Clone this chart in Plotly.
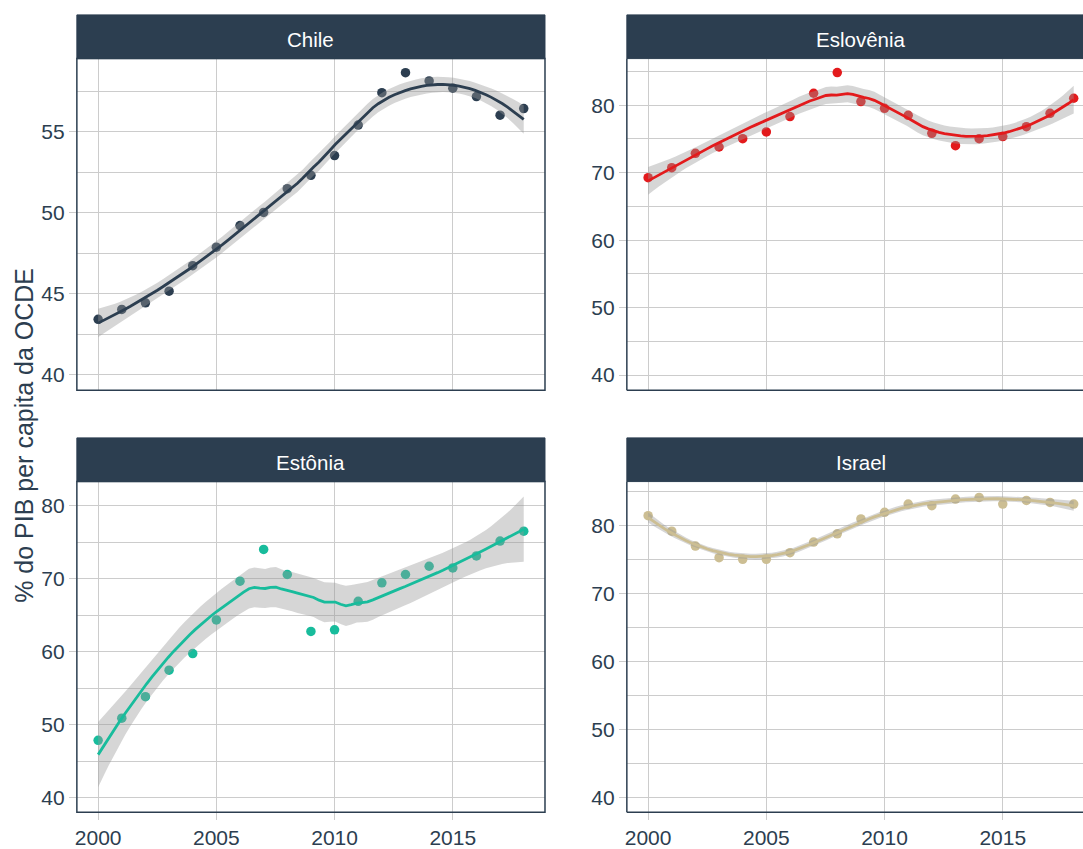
import math
import numpy as np
import plotly.graph_objects as go

# ---------------- data ----------------
years = list(range(2000, 2019))
countries = ["Chile", "Eslovênia", "Estônia", "Israel"]
chile = [43.43, 44.04, 44.45, 45.17, 46.74, 47.88, 49.21, 50.02, 51.49, 52.31,
         53.53, 55.41, 57.41, 58.64, 58.13, 57.68, 57.17, 56.02, 56.43]
eslovenia = [69.26, 70.74, 72.87, 73.81, 75.05, 76.04, 78.32, 81.78, 84.85, 80.54,
             79.55, 78.51, 75.84, 74.01, 75.05, 75.35, 76.83, 78.81, 81.04]
estonia = [47.85, 50.88, 53.83, 57.46, 59.73, 64.35, 69.66, 74.01, 70.57, 62.77,
           62.99, 66.89, 69.43, 70.57, 71.70, 71.47, 73.11, 75.15, 76.51]
israel = [81.46, 79.17, 76.98, 75.28, 75.04, 75.04, 76.01, 77.57, 78.78, 80.97,
          81.95, 83.16, 82.92, 83.89, 84.14, 83.16, 83.70, 83.41, 83.16]
series = [chile, eslovenia, estonia, israel]
colors = ["#2c3e50", "#e31a1c", "#18BC9C", "#CCBE93"]
y_ticks = [[40, 45, 50, 55], [40, 50, 60, 70, 80], [40, 50, 60, 70, 80], [40, 50, 60, 70, 80]]
y_minor = [2.5, 5, 5, 5]
y_ranges = [[39.06, 59.51], [37.75, 86.92], [38.0, 83.3], [37.85, 86.47]]
x_ticks = [2000, 2005, 2010, 2015]
y_title = "% do PIB per capita da OCDE"

# ---------------- loess smoother (like geom_smooth, span=0.75, degree 2) ----------------
def loess_rows(x, xe, span=0.75):
    x = np.asarray(x, float)
    n = len(x)
    q = int(math.floor(n * span))
    rows = []
    for x0 in xe:
        d = np.abs(x - x0)
        h = np.sort(d)[q - 1] * 1.0001
        u = d / h
        w = np.where(u < 1, (1 - u ** 3) ** 3, 0.0)
        X = np.column_stack([np.ones(n), x - x0, (x - x0) ** 2])
        XtW = X.T * w
        A = XtW @ X
        rows.append(np.linalg.solve(A, XtW)[0])
    return np.array(rows)


def t_quantile_975(df):
    # Cornish-Fisher expansion around the normal quantile
    z = 1.959963984540054
    g1 = (z ** 3 + z) / 4
    g2 = (5 * z ** 5 + 16 * z ** 3 + 3 * z) / 96
    g3 = (3 * z ** 7 + 19 * z ** 5 + 17 * z ** 3 - 15 * z) / 384
    g4 = (79 * z ** 9 + 776 * z ** 7 + 1482 * z ** 5 - 1920 * z ** 3 - 945 * z) / 92160
    return z + g1 / df + g2 / df ** 2 + g3 / df ** 3 + g4 / df ** 4


def smooth(x, y, npts=80):
    x = np.asarray(x, float)
    y = np.asarray(y, float)
    xe = np.linspace(x.min(), x.max(), npts)
    L = loess_rows(x, x)
    M = np.eye(len(x)) - L
    MM = M.T @ M
    d1 = np.trace(MM)
    d2 = np.trace(MM @ MM)
    rss = float(np.sum((y - L @ y) ** 2))
    s = math.sqrt(rss / d1)
    Le = loess_rows(x, xe)
    fit = Le @ y
    se = s * np.sqrt(np.sum(Le ** 2, axis=1))
    tq = t_quantile_975(d1 ** 2 / d2)
    return xe, fit, fit - tq * se, fit + tq * se

# ---------------- layout geometry ----------------
W, H = 1083, 849
xdom = [[75 / W, 544 / W], [626 / W, 1.0]]
ydom = [[1 - 393 / H, 1 - 59 / H], [1 - 818 / H, 1 - 485 / H]]
ppy = 469 / 19.8  # pixels per year
x_range_left = [1999.1, 2018.9]
x_range_right = [1999.1, 1999.1 + (W - 626) / ppy]
navy = "#2c3e50"
grid = "#CCCCCC"
font_family = "Liberation Sans, Arial, sans-serif"
tick_size = 21

fig = go.Figure()
layout = dict(
    width=W, height=H, autosize=False,
    margin=dict(l=0, r=0, t=0, b=0, pad=0),
    paper_bgcolor="white", plot_bgcolor="white",
    showlegend=False,
    font=dict(family=font_family, color=navy, size=20),
)
shapes = []
annotations = []

for i, (name, vals, col) in enumerate(zip(countries, series, colors)):
    r, c = divmod(i, 2)
    k = i + 1
    xa = "x" if k == 1 else f"x{k}"
    ya = "y" if k == 1 else f"y{k}"
    xe, fit, lo, hi = smooth(years, vals)
    # points first (ribbon is drawn over them, as in ggplot)
    fig.add_trace(go.Scatter(x=years, y=vals, mode="markers", xaxis=xa, yaxis=ya,
                             marker=dict(color=col, size=9.5, line=dict(width=0)),
                             hoverinfo="skip"))
    fig.add_trace(go.Scatter(x=np.concatenate([xe, xe[::-1]]), y=np.concatenate([hi, lo[::-1]]),
                             mode="lines", fill="toself", fillcolor="rgba(153,153,153,0.4)",
                             line=dict(width=0), xaxis=xa, yaxis=ya, hoverinfo="skip"))
    fig.add_trace(go.Scatter(x=xe, y=fit, mode="lines", xaxis=xa, yaxis=ya,
                             line=dict(color=col, width=2.8), hoverinfo="skip"))

    xkey = "xaxis" if k == 1 else f"xaxis{k}"
    ykey = "yaxis" if k == 1 else f"yaxis{k}"
    layout[xkey] = dict(
        domain=xdom[c], anchor=ya, range=x_range_left if c == 0 else x_range_right,
        tickvals=x_ticks, showticklabels=(r == 1),
        ticks="outside" if r == 1 else "", ticklen=7, tickwidth=1.3, tickcolor=grid,
        showgrid=True, gridcolor=grid, gridwidth=1.3, zeroline=False, showline=False,
        tickfont=dict(size=tick_size, color=navy, family=font_family),
    )
    ym = y_minor[i]
    layout[ykey] = dict(
        domain=ydom[r], anchor=xa, range=y_ranges[i], tickvals=y_ticks[i],
        ticks="outside", ticklen=7, tickwidth=1.3, tickcolor=grid,
        showgrid=True, gridcolor=grid, gridwidth=1.3, zeroline=False, showline=False,
        minor=dict(tick0=y_ticks[i][0] - ym, dtick=2 * ym, showgrid=True, gridcolor=grid,
                   gridwidth=1.3, ticks=""),
        tickfont=dict(size=tick_size, color=navy, family=font_family),
    )
    x0p, x1p = xdom[c]
    y0p, y1p = ydom[r]
    strip_top = y1p + 44 / H
    # panel border
    if c == 0:
        shapes.append(dict(type="rect", xref="paper", yref="paper", x0=x0p, x1=x1p, y0=y0p, y1=y1p,
                           line=dict(color=navy, width=1.5), fillcolor="rgba(0,0,0,0)", layer="above"))
    else:
        shapes.append(dict(type="line", xref="paper", yref="paper", x0=x0p, x1=x0p, y0=y0p, y1=y1p,
                           line=dict(color=navy, width=1.5), layer="above"))
        shapes.append(dict(type="line", xref="paper", yref="paper", x0=x0p, x1=1.0, y0=y0p, y1=y0p,
                           line=dict(color=navy, width=1.5), layer="above"))
    # strip
    shapes.append(dict(type="rect", xref="paper", yref="paper", x0=x0p, x1=(x1p if c == 0 else 1.0),
                       y0=y1p, y1=strip_top, line=dict(color=navy, width=1), fillcolor=navy,
                       layer="above"))
    cx = (x0p + x1p) / 2 if c == 0 else (626 + 469 / 2) / W
    annotations.append(dict(text=name, x=cx, y=(y1p + strip_top) / 2 - 2.5 / H, xref="paper",
                            yref="paper", xanchor="center", yanchor="middle", showarrow=False,
                            font=dict(size=20.5, color="white", family=font_family)))

annotations.append(dict(text=y_title, x=22 / W, y=1 - 438 / H, xref="paper", yref="paper",
                        xanchor="center", yanchor="middle", textangle=-90, showarrow=False,
                        font=dict(size=25, color=navy, family=font_family)))
layout["shapes"] = shapes
layout["annotations"] = annotations
fig.update_layout(**layout)
fig.write_html("out.html")
